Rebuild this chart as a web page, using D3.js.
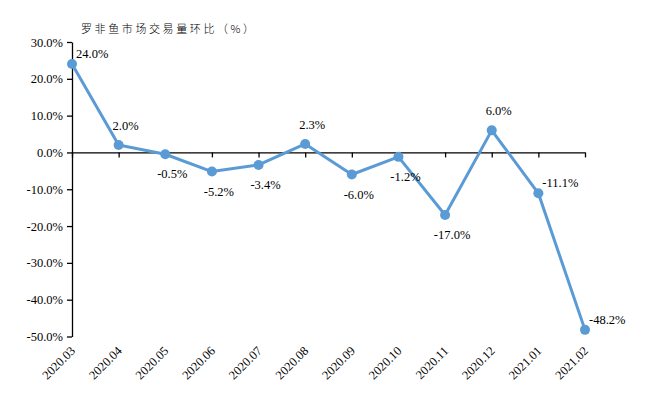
<!DOCTYPE html>
<html>
<head>
<meta charset="utf-8">
<script src="https://cdn.jsdelivr.net/npm/d3@7"></script>
<style>
  body { margin: 0; background: #fff; }
  text { font-family: "Liberation Serif", "Times New Roman", serif; font-size: 12.5px; fill: #000; }
  .title { font-family: "Noto Sans CJK SC", sans-serif; font-size: 11px; font-weight: 300; letter-spacing: 2.6px; }
</style>
</head>
<body>
<div id="chart"></div>
<script>
// months on the x axis
const months = ["2020.03", "2020.04", "2020.05", "2020.06", "2020.07", "2020.08",
  "2020.09", "2020.10", "2020.11", "2020.12", "2021.01", "2021.02"];
// month-on-month change of trading volume, percent
const changes = [24.0, 2.0, -0.5, -5.2, -3.4, 2.3, -6.0, -1.2, -17.0, 6.0, -11.1, -48.2];
const yTicks = [30, 20, 10, 0, -10, -20, -30, -40, -50];

// where each value label sits relative to its point
const labelPlace = ["right", "above", "below", "below", "below", "above",
  "below", "below", "below", "above", "right", "right"];

const width = 650, height = 398;
const margin = { top: 42, right: 65, bottom: 61.5, left: 72 };

const svg = d3.select("#chart").append("svg")
  .attr("width", width)
  .attr("height", height);

const x = d3.scalePoint()
  .domain(months)
  .range([margin.left, width - margin.right]);

const y = d3.scaleLinear()
  .domain([-50, 30])
  .range([height - margin.bottom, margin.top]);

// title
svg.append("text")
  .attr("class", "title")
  .attr("x", 81)
  .attr("y", 33)
  .text("罗非鱼市场交易量环比（%）");

// y axis
const yAxis = svg.append("g")
  .attr("transform", `translate(${margin.left},0)`)
  .call(d3.axisLeft(y).tickValues(yTicks).tickSize(5).tickSizeOuter(0)
    .tickFormat(d => d.toFixed(1) + "%"));
yAxis.select(".domain").attr("stroke", "#000").attr("stroke-width", 1.3);
yAxis.selectAll(".tick line").attr("stroke", "#000").attr("stroke-width", 1.3);
yAxis.selectAll(".tick text")
  .attr("x", -9)
  .style("font-family", "Liberation Serif, serif")
  .style("font-size", "12.5px");

// x axis along zero
const xAxis = svg.append("g")
  .attr("transform", `translate(0,${y(0)})`)
  .call(d3.axisBottom(x).tickSize(5).tickSizeOuter(0).tickFormat(""));
xAxis.select(".domain").attr("stroke", "#000").attr("stroke-width", 1.3);
xAxis.selectAll(".tick line").attr("stroke", "#000").attr("stroke-width", 1.3);

// rotated month labels below the plot
svg.append("g")
  .selectAll("text")
  .data(months)
  .enter().append("text")
  .attr("text-anchor", "end")
  .attr("transform", d => `translate(${x(d) + 4},${height - margin.bottom + 15}) rotate(-45)`)
  .text(d => d);

// the line
const line = d3.line()
  .x((d, i) => x(months[i]))
  .y(d => y(d));

svg.append("path")
  .datum(changes)
  .attr("fill", "none")
  .attr("stroke", "#5B9BD5")
  .attr("stroke-width", 3)
  .attr("stroke-linejoin", "round")
  .attr("d", line);

svg.selectAll(".dot")
  .data(changes)
  .enter().append("circle")
  .attr("class", "dot")
  .attr("cx", (d, i) => x(months[i]))
  .attr("cy", d => y(d))
  .attr("r", 5)
  .attr("fill", "#5B9BD5");

// value labels
svg.selectAll(".lbl")
  .data(changes)
  .enter().append("text")
  .attr("class", "lbl")
  .attr("text-anchor", (d, i) => labelPlace[i] === "right" ? "start" : "middle")
  .attr("x", (d, i) => x(months[i]) + (labelPlace[i] === "right" ? 4 : 7))
  .attr("y", (d, i) => {
    const p = labelPlace[i];
    if (p === "above") return y(d) - 15;
    if (p === "below") return y(d) + 24;
    return y(d) - 6;
  })
  .text(d => d.toFixed(1) + "%");
</script>
</body>
</html>
